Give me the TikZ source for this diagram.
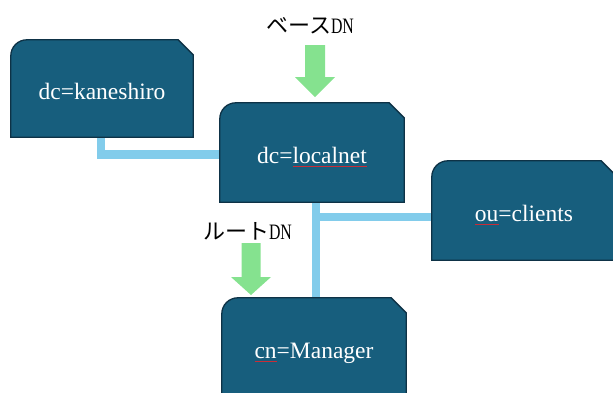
\documentclass[tikz,border=0pt]{standalone}
\usepackage{fontspec}
\setmainfont{Liberation Serif}
\newfontfamily\serifface{Liberation Serif}
\newfontfamily\jpfont{Noto Sans CJK JP}

\definecolor{entryfill}{RGB}{23,94,125}
\definecolor{entryline}{RGB}{14,50,70}
\definecolor{linkblue}{RGB}{130,204,235}
\definecolor{markgreen}{RGB}{133,226,143}
\definecolor{spellred}{RGB}{200,45,55}

\pgfdeclarelayer{links}
\pgfdeclarelayer{boxes}
\pgfsetlayers{links,boxes,main}

% thin red wavy mark under a word
\newsavebox\squigword
\newcommand\squig[1]{\sbox\squigword{#1}%
  \rlap{\raisebox{-3.7pt}{\color{spellred}\hbox to \wd\squigword{\xleaders\hbox{\rule{0.8pt}{0.7pt}\raisebox{0.5pt}{\rule{0.8pt}{0.7pt}}}\hfil}}}\usebox\squigword}

% box outline: rounded top-left corner, cut top-right corner
\newcommand\entryshape[1]{%
  \filldraw[entryfill, draw=entryline, line width=1.3pt]
    (#1.south west) [rounded corners=16pt] -- (#1.north west)
    [sharp corners] -- ([xshift=-15pt]#1.north east)
    -- ([yshift=-15pt]#1.north east) -- (#1.south east) -- cycle;}

% green block arrow pointing down
\newcommand\downmark[6]{% cx, top, neck, tip, half shaft, half head
  \fill[markgreen] (#1-#5,#2) -- (#1+#5,#2) -- (#1+#5,#3) -- (#1+#6,#3)
    -- (#1,#4) -- (#1-#6,#3) -- (#1-#5,#3) -- cycle;}

\begin{document}
\begin{tikzpicture}[x=1pt, y=-1pt,
  entry/.style={rectangle, inner sep=0pt, text=white,
    font=\serifface\fontsize{23.5}{28}\selectfont, text height=25pt, text depth=4pt},
  link/.style={draw=linkblue, line width=8.5pt},
  tag/.style={anchor=base, inner sep=0pt, font=\fontsize{22}{26}\selectfont}]
\useasboundingbox (0,0) rectangle (613,392);
\clip (0,0) rectangle (613,392);

\node[entry, minimum width=182pt, minimum height=97pt] (kan) at (102,88.5) {dc=kaneshiro};
\node[entry, minimum width=184pt, minimum height=99pt] (loc) at (312,152.5) {dc=\squig{localnet}};
\node[entry, minimum width=184pt, minimum height=99pt] (cli) at (524,210.5) {\squig{ou}=clients};
\node[entry, minimum width=184pt, minimum height=99pt] (man) at (314,347.5) {\squig{cn}=Manager};

\node[tag] (base) at (310,33) {\jpfont ベース\serifface\scalebox{0.72}[1]{DN}};
\node[tag] (root) at (247.5,239) {\jpfont ルート\serifface\scalebox{0.72}[1]{DN}};

\begin{pgfonlayer}{boxes}
  \entryshape{kan}
  \entryshape{loc}
  \entryshape{cli}
  \entryshape{man}
\end{pgfonlayer}

\coordinate (drop) at (316,217);
\begin{pgfonlayer}{links}
  \draw[link] ([xshift=-1pt]kan.south) |- ([yshift=-2pt]loc.west);
  \draw[link] (loc.south -| drop) -- (man.north -| drop);
  \draw[link] (drop) -- (cli.west |- drop);
\end{pgfonlayer}

\downmark{315}{45}{77}{97}{10}{20}
\downmark{251}{243}{277}{295}{9.5}{20}
\end{tikzpicture}
\end{document}
